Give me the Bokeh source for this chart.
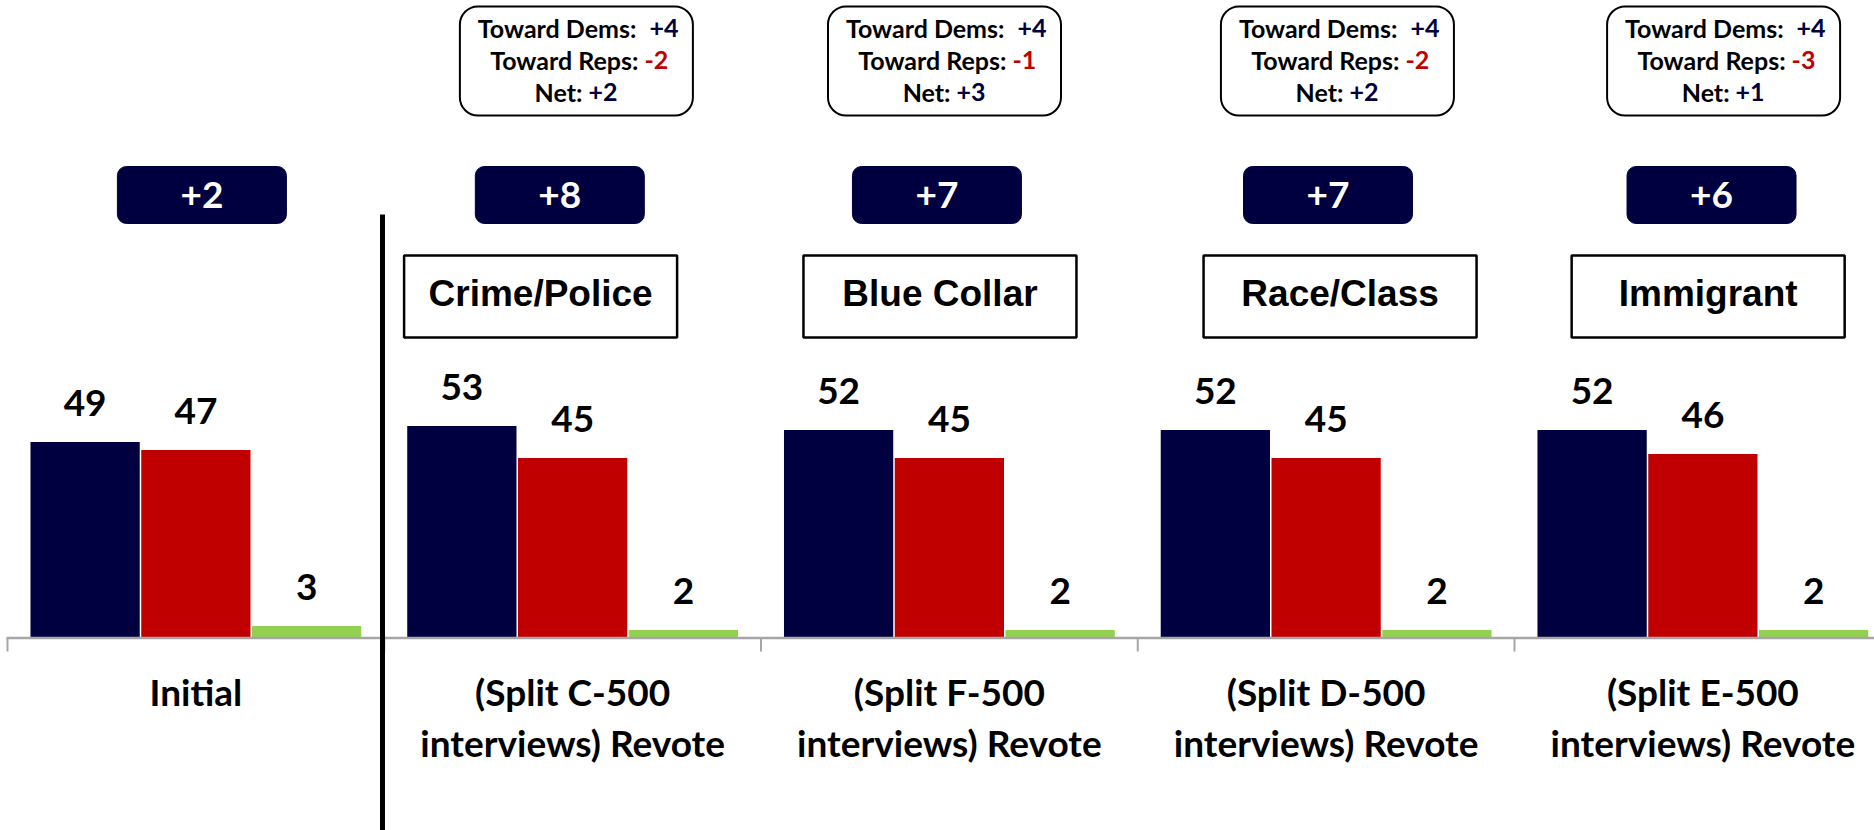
from bokeh.plotting import figure
from bokeh.models import ColumnDataSource, BoxAnnotation, Range1d
from bokeh.core.properties import value
from bokeh.embed import file_html
from bokeh.resources import INLINE

# ---------------- data ----------------
categories = ["Initial", "Split C", "Split F", "Split D", "Split E"]
cat_line1 = ["Initial", "(Split C-500", "(Split F-500", "(Split D-500", "(Split E-500"]
cat_line2 = ["", "interviews) Revote", "interviews) Revote", "interviews) Revote", "interviews) Revote"]
dem_vote = [49, 53, 52, 52, 52]
rep_vote = [47, 45, 45, 45, 46]
other_vote = [3, 2, 2, 2, 2]
net_margin = ["+2", "+8", "+7", "+7", "+6"]
messages = ["Crime/Police", "Blue Collar", "Race/Class", "Immigrant"]          # categories 2..5
toward_dems = ["+4", "+4", "+4", "+4"]
toward_reps = ["-2", "-1", "-2", "-3"]
net_shift = ["+2", "+3", "+2", "+1"]

# ---------------- style / layout ----------------
NAVY = "#000040"
RED = "#C00000"
GREEN = "#92D050"
AXIS_GRAY = "#A6A6A6"
W, H = 1874, 830
PX = 376.75          # pixels per category
PY = 4.0             # pixels per vote point
BASE = 637.5         # page y of the zero line
ORG_X = 7            # page x of category boundary 0
BL = 0.42            # baseline correction (em) for svg text rendering


def fx(page_x):
    return (page_x - ORG_X) / PX


def fy(page_y):
    return (BASE - page_y) / PY


def fyt(page_y, size):
    # y for alphabetic-baseline text whose baseline should sit at page_y
    return fy(page_y - BL * size)


p = figure(width=W, height=H, output_backend="svg", toolbar_location=None,
           x_range=Range1d(fx(0), fx(W)), y_range=Range1d(fy(H), fy(0)),
           x_axis_location=None, y_axis_location=None, min_border=0,
           border_fill_color="white", background_fill_color="white")
p.grid.visible = False
p.outline_line_color = None

centers = [i + 0.5 for i in range(len(categories))]
BAR_W = 0.29
OFF = 0.294
NUM = 37

src = ColumnDataSource(dict(
    dem_x=[c - OFF for c in centers], rep_x=centers, oth_x=[c + OFF for c in centers],
    dem=dem_vote, rep=rep_vote, oth=other_vote,
    dem_t=[str(v) for v in dem_vote], rep_t=[str(v) for v in rep_vote], oth_t=[str(v) for v in other_vote],
    dem_ty=[v + (23 + BL * NUM) / PY for v in dem_vote], rep_ty=[v + (23 + BL * NUM) / PY for v in rep_vote],
    oth_ty=[v + (23 + BL * NUM) / PY for v in other_vote],
    cx=centers, l1=cat_line1, l2=cat_line2,
))

p.vbar(x="dem_x", top="dem", width=BAR_W, bottom=0, source=src, fill_color=NAVY, line_color=None)
p.vbar(x="rep_x", top="rep", width=BAR_W, bottom=0, source=src, fill_color=RED, line_color=None)
p.vbar(x="oth_x", top="oth", width=BAR_W, bottom=0, source=src, fill_color=GREEN, line_color=None)

num_font = dict(text_font=value("Lato"), text_font_style="bold", text_font_size=f"{NUM}px",
                text_color="black", text_align="center", text_baseline="alphabetic")
p.text(x="dem_x", y="dem_ty", text="dem_t", source=src, **num_font)
p.text(x="rep_x", y="rep_ty", text="rep_t", source=src, **num_font)
p.text(x="oth_x", y="oth_ty", text="oth_t", source=src, **num_font)

# axis line and category boundary ticks
p.segment(x0=[fx(6)], y0=[0], x1=[fx(1880)], y1=[0], line_color=AXIS_GRAY, line_width=2.5)
p.segment(x0=list(range(len(categories))), y0=[0] * len(categories),
          x1=list(range(len(categories))), y1=[fy(651)] * len(categories),
          line_color=AXIS_GRAY, line_width=2)

# category labels
p.text(x="cx", y=fyt(707, NUM), text="l1", source=src, **num_font)
p.text(x="cx", y=fyt(758, NUM), text="l2", source=src, **num_font)

# divider
p.segment(x0=[fx(382)], y0=[fy(214)], x1=[fx(382)], y1=[fy(850)], line_color="black", line_width=5)

# net margin boxes
margin_dx = [0.016, -0.034, -0.033, 0.005, 0.023]
mx = [c + d for c, d in zip(centers, margin_dx)]
half = 169 / 2 / PX
for x in mx:
    p.add_layout(BoxAnnotation(left=x - half, right=x + half, top=fy(166), bottom=fy(223),
                               fill_color=NAVY, fill_alpha=1.0, line_color=NAVY, line_alpha=1.0,
                               line_width=1, border_radius=9, level="underlay"))
p.text(x=mx, y=[fyt(210, NUM)] * len(mx), text=net_margin, text_font=value("Lato"),
       text_font_style="bold", text_font_size=f"{NUM}px", text_color="white",
       text_align="center", text_baseline="alphabetic")

# message boxes
msg_dx = [-0.085, -0.025, 0.037, 0.014]
msx = [centers[i + 1] + msg_dx[i] for i in range(len(messages))]
half = 273 / 2 / PX
for x in msx:
    p.add_layout(BoxAnnotation(left=x - half, right=x + half, top=fy(255), bottom=fy(337),
                               fill_color="white", fill_alpha=1.0, line_color="black", line_alpha=1.0,
                               line_width=2.5, level="underlay"))
p.text(x=msx, y=[fyt(309, 37)] * len(msx), text=messages, text_font=value("Liberation Sans"),
       text_font_style="bold", text_font_size="37px", text_color="black",
       text_align="center", text_baseline="alphabetic")

# shift summary boxes
sum_dx = [0.010, -0.013, 0.030, 0.055]
sx = [centers[i + 1] + sum_dx[i] for i in range(len(toward_dems))]
half = 233 / 2 / PX
for x in sx:
    p.add_layout(BoxAnnotation(left=x - half, right=x + half, top=fy(6), bottom=fy(115),
                               fill_color="white", fill_alpha=1.0, line_color="black", line_alpha=1.0,
                               line_width=2, border_radius=18, level="underlay"))

SM = 25
small = dict(text_font=value("Lato"), text_font_style="bold", text_font_size=f"{SM}px",
             text_baseline="alphabetic")
rows = [("Toward Dems:", toward_dems, NAVY, 38, 60, 73),
        ("Toward Reps:", toward_reps, RED, 70, 62, 68),
        ("Net:", net_shift, NAVY, 102, 6, 12)]
for label, vals, col, base_y, end_off, start_off in rows:
    p.text(x=[x + end_off / PX for x in sx], y=[fyt(base_y, SM)] * len(sx), text=[label] * len(sx),
           text_color="black", text_align="right", **small)
    p.text(x=[x + start_off / PX for x in sx], y=[fyt(base_y, SM)] * len(sx), text=vals,
           text_color=col, text_align="left", **small)

open("out.html", "w").write(file_html(p, INLINE))
